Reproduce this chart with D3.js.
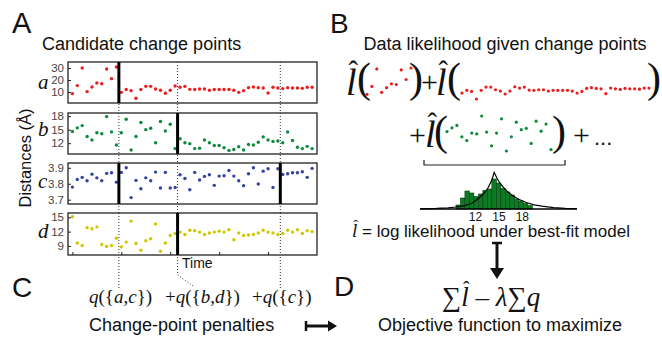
<!DOCTYPE html>
<html>
<head>
<meta charset="utf-8">
<script src="https://cdn.jsdelivr.net/npm/d3@7"></script>
<style>
  body { margin: 0; background: #fff; }
  svg { display: block; }
</style>
</head>
<body>
<script>
// distance traces a-d, one value per time step
const distA = [8.6, 15.3, 30, 10.3, 14.2, 17.5, 16.9, 29.2, 21.1, 30.8,
  9.7, 12, 11.1, 4.7, 12, 14.7, 14.7, 12.5, 11.4, 8.9,
  11.4, 15, 13.9, 14.7, 12.2, 12, 12.5, 12.5, 11.4, 12,
  12, 12, 12, 11.4, 9.7, 11.1, 13.6, 14.2, 13.6, 13.3,
  9.2, 13.9, 13.3, 12.8, 13.6, 13.3, 13.3, 13, 13.9, 13.9];
const distB = [14.6, 15.4, 15.9, 13.5, 12.7, 14.3, 14.1, 17.9, 14.5, 11.6,
  14.3, 17.3, 10.5, 13.5, 16.6, 15, 15.3, 12.1, 16.8, 14.7,
  16.2, 10.8, 13, 12.1, 11.9, 10.8, 10.9, 12.7, 12.1, 11.5,
  11.5, 11, 10.4, 10.6, 11.2, 10.5, 11.7, 11.6, 12.2, 13.4,
  12.7, 12.4, 12.5, 12.1, 14.5, 12.6, 11.1, 10.8, 11.3, 10.8];
const distC = [3.779, 3.827, 3.84, 3.819, 3.86, 3.837, 3.819, 3.865, 3.869, 3.81,
  3.871, 3.9, 3.713, 3.821, 3.769, 3.837, 3.819, 3.873, 3.773, 3.871,
  3.773, 3.777, 3.856, 3.833, 3.762, 3.871, 3.823, 3.846, 3.856, 3.79,
  3.848, 3.85, 3.883, 3.848, 3.819, 3.788, 3.863, 3.9, 3.798, 3.879,
  3.894, 3.777, 3.894, 3.858, 3.863, 3.869, 3.869, 3.875, 3.84, 3.896];
const distD = [15.1, 9.6, 9.1, 12.8, 12.6, 13, 9.3, 8.9, 9.1, 10.6,
  8.8, 9.8, 14.2, 9.5, 8.1, 10.1, 10.5, 13.6, 7.9, 9.6,
  11.2, 11.6, 11.9, 11.4, 12.3, 12.2, 11.9, 11.4, 11.7, 11.9,
  12.1, 11.9, 12.4, 10.3, 11.7, 11.2, 11.3, 11.4, 11.7, 12.3,
  11.9, 11.7, 11.4, 11.6, 12.3, 11.9, 12.4, 11.6, 12.2, 12];

const rowNames = ["a", "b", "c", "d"];
const rowColors = ["#ee1c1c", "#0b8a3e", "#34449c", "#cfc800"];
const rowTicks = [[10, 20, 30], [12, 15, 18], [3.7, 3.8, 3.9], [9, 12, 15]];
const rowDomains = [[0.8, 35], [9.6, 18.7], [3.673, 3.93], [7.1, 15.9]];
const timeTicks = [0, 10, 20, 30, 40];

// candidate change points (between time steps) and the ones accepted per row
const candidates = [9.5, 21.5, 42.5];
const rowChanges = [[9.5], [21.5], [9.5, 42.5], [21.5]];
const penaltyLabels = [["a", "c"], ["b", "d"], ["c"]];

// histogram of distance b with best-fit density
const histEdges = [9.5, 10.08, 10.65, 11.23, 11.8, 12.38, 12.95, 13.53, 14.1,
  14.68, 15.25, 15.83, 16.4, 16.98, 17.55, 18.13, 18.7, 19.28];
const histCounts = [4, 11, 18, 16, 12.5, 15, 18.5, 20, 30, 26, 20.5, 17, 14, 10, 8, 5.5, 3.5];
const fitX = [4.9, 7, 8.5, 9.5, 10.5, 11.5, 12.3, 13, 13.6, 14.1, 14.4, 14.8, 15.3, 16,
  16.8, 17.6, 18.5, 19.5, 20.5, 22, 23.5, 25];
const fitY = [0.2, 0.6, 1.2, 2, 3.2, 5.5, 10, 15, 21, 29, 36.7, 30, 24, 18,
  13, 9.5, 6.5, 4.2, 2.8, 1.4, 0.7, 0.3];
const histTicks = [12, 15, 18];

const W = 662, H = 337;
const svg = d3.select("body").append("svg").attr("width", W).attr("height", H);

const sans = "'Liberation Sans', Arial, sans-serif";
const serif = "'Liberation Serif', 'Times New Roman', serif";

function label(x, y, txt, size, anchor) {
  return svg.append("text").attr("x", x).attr("y", y)
    .attr("font-family", sans).attr("font-size", size)
    .attr("text-anchor", anchor || "start").attr("fill", "#111").text(txt);
}

// put a circumflex over character k of a text node
function hatOver(textSel, k, size) {
  const node = textSel.node();
  const box = node.getExtentOfChar(k);
  const base = +textSel.attr("y");
  svg.append("text").attr("x", box.x + box.width * 0.68).attr("y", base - size * 0.37)
    .attr("text-anchor", "middle").attr("font-family", serif)
    .attr("font-size", size * 0.75).attr("fill", "#111").text("\u02C6");
}

// ---------- panel A ----------
label(12, 33, "A", 29);
label(42, 50, "Candidate change points", 18);

const series = [distA, distB, distC, distD];
const rowTop = [62, 113, 163, 213];
const rowBottom = [103, 154, 204, 255];
const nameBase = [89, 136, 188, 238];
const left = 68, right = 317;

const x = d3.scaleLinear().domain([-0.9, 50]).range([left, right]);

// dotted candidate lines, running down to the penalty labels
const dotted = svg.append("g").attr("stroke", "#333").attr("stroke-width", 1)
  .attr("stroke-dasharray", "1,2").attr("fill", "none");
candidates.forEach((c, i) => {
  const cx = x(c);
  let pts = [[cx, rowTop[0]], [cx, 288]];
  if (i == 1) pts = [[cx, rowTop[0]], [cx, 275], [cx + 17, 287]];
  dotted.append("path").attr("d", d3.line()(pts));
});

series.forEach((vals, r) => {
  const y = d3.scaleLinear().domain(rowDomains[r]).range([rowBottom[r], rowTop[r]]);
  const g = svg.append("g");

  g.append("rect").attr("x", left).attr("y", rowTop[r])
    .attr("width", right - left).attr("height", rowBottom[r] - rowTop[r])
    .attr("fill", "#fff").attr("stroke", "#222").attr("stroke-width", 1.3);

  candidates.forEach(c => {
    g.append("line").attr("x1", x(c)).attr("x2", x(c))
      .attr("y1", rowTop[r]).attr("y2", rowBottom[r])
      .attr("stroke", "#333").attr("stroke-dasharray", "1,2");
  });

  const ax = g.append("g").attr("transform", "translate(" + left + ",0)")
    .call(d3.axisLeft(y).tickValues(rowTicks[r]).tickSize(-3).tickPadding(4)
      .tickFormat(d => String(d)));
  ax.select(".domain").remove();
  ax.selectAll("text").attr("font-family", sans).attr("font-size", 11.5).attr("fill", "#444");
  ax.selectAll("line").attr("stroke", "#222");

  g.selectAll("circle").data(vals).enter().append("circle")
    .attr("cx", (d, i) => x(i)).attr("cy", d => y(d))
    .attr("r", 1.7).attr("fill", rowColors[r]);

  rowChanges[r].forEach(c => {
    g.append("line").attr("x1", x(c)).attr("x2", x(c))
      .attr("y1", rowTop[r]).attr("y2", rowBottom[r])
      .attr("stroke", "#000").attr("stroke-width", 3);
  });

  g.append("text").attr("x", 38).attr("y", nameBase[r])
    .attr("font-family", serif).attr("font-style", "italic").attr("font-size", 21)
    .attr("fill", "#111").text(rowNames[r]);
});

// time axis ticks under row d
const tx = svg.append("g").attr("transform", "translate(0," + rowBottom[3] + ")")
  .call(d3.axisBottom(x).tickValues(timeTicks).tickSize(-3).tickFormat(""));
tx.select(".domain").remove();
tx.selectAll("line").attr("stroke", "#222");

label(182, 268, "Time", 14);

svg.append("text").attr("transform", "translate(31,158) rotate(-90)")
  .attr("text-anchor", "middle").attr("font-family", sans).attr("font-size", 16.5)
  .attr("fill", "#111").text("Distances (\u00C5)");

// ---------- panel B ----------
label(330, 33, "B", 28);
label(505, 50, "Data likelihood given change points", 18, "middle");

function lhat(px, py, size) {
  const t = svg.append("text").attr("x", px).attr("y", py)
    .attr("font-family", serif).attr("font-style", "italic").attr("font-size", size)
    .attr("fill", "#111").text("l");
  hatOver(t, 0, size);
}
function glyph(px, py, size, txt, fam) {
  svg.append("text").attr("x", px).attr("y", py)
    .attr("font-family", fam || serif).attr("font-size", size)
    .attr("fill", "#111").text(txt);
}
function miniDots(vals, i0, i1, xr, yd, yr, color) {
  const sx = d3.scaleLinear().domain([i0, i1]).range(xr);
  const sy = d3.scaleLinear().domain(yd).range(yr);
  svg.append("g").selectAll("circle").data(vals.slice(i0, i1 + 1)).enter()
    .append("circle").attr("cx", (d, i) => sx(i0 + i)).attr("cy", d => sy(d))
    .attr("r", 1.6).attr("fill", color);
}

// row 1: red segments
lhat(346, 95, 38);
glyph(357, 92, 42, "(");
miniDots(distA, 0, 9, [367, 411], [4.7, 30.8], [99, 68], rowColors[0]);
glyph(409, 92, 42, ")");
glyph(421, 92, 30, "+");
lhat(436, 95, 38);
glyph(447, 92, 42, "(");
miniDots(distA, 10, 49, [462, 649], [4.7, 30.8], [99, 68], rowColors[0]);
glyph(647, 92, 42, ")");

// row 2: green segment
glyph(409, 145, 30, "+");
lhat(425, 147, 38);
glyph(434, 145, 42, "(");
miniDots(distB, 0, 21, [447, 551], [10.5, 17.9], [151, 116], rowColors[1]);
glyph(552, 145, 42, ")");
glyph(573, 145, 30, "+");
glyph(594, 145, 22, "...", sans);

// bracket
svg.append("path").attr("d", d3.line()([[424, 160], [424, 165], [565, 165], [565, 160]]))
  .attr("fill", "none").attr("stroke", "#222").attr("stroke-width", 1.2);

// histogram
const hx = d3.scaleLinear().domain([4.9, 25]).range([420, 577]);
const hy = d3.scaleLinear().domain([0, 37]).range([209, 172]);
svg.append("g").selectAll("rect").data(histCounts).enter().append("rect")
  .attr("x", (d, i) => hx(histEdges[i]))
  .attr("width", (d, i) => hx(histEdges[i + 1]) - hx(histEdges[i]))
  .attr("y", d => hy(d)).attr("height", d => hy(0) - hy(d))
  .attr("fill", "#0d7a24").attr("stroke", "#083d12").attr("stroke-width", 0.6);
svg.append("path").datum(fitX.map((v, i) => [v, fitY[i]]))
  .attr("d", d3.line().x(d => hx(d[0])).y(d => hy(d[1])))
  .attr("fill", "none").attr("stroke", "#000").attr("stroke-width", 1.2);
svg.append("line").attr("x1", 420).attr("x2", 577).attr("y1", 209).attr("y2", 209)
  .attr("stroke", "#000").attr("stroke-width", 1.3);
svg.append("g").selectAll("text").data(histTicks).enter().append("text")
  .attr("x", d => hx(d)).attr("y", 221).attr("text-anchor", "middle")
  .attr("font-family", sans).attr("font-size", 12).attr("fill", "#111").text(d => d);

// definition line
const def = svg.append("text").attr("x", 352).attr("y", 237).attr("fill", "#111");
def.append("tspan").attr("font-family", serif).attr("font-style", "italic")
  .attr("font-size", 19).text("l");
def.append("tspan").attr("font-family", sans).attr("font-size", 17)
  .text(" = log likelihood under best-fit model");
hatOver(def, 0, 19);

// arrow B -> D
svg.append("line").attr("x1", 492).attr("x2", 502).attr("y1", 243).attr("y2", 243)
  .attr("stroke", "#111").attr("stroke-width", 2.5);
svg.append("line").attr("x1", 497).attr("x2", 497).attr("y1", 243).attr("y2", 270)
  .attr("stroke", "#111").attr("stroke-width", 3);
svg.append("path").attr("d", "M490,268 L504,268 L497,279 Z").attr("fill", "#111");

// ---------- panel C ----------
label(12, 297, "C", 28);
const qx = [89, 165, 252];
penaltyLabels.forEach((set, i) => {
  const t = svg.append("text").attr("x", qx[i]).attr("y", 303)
    .attr("font-family", serif).attr("font-size", 19).attr("fill", "#111");
  if (i > 0) t.append("tspan").text("+");
  t.append("tspan").attr("font-style", "italic").text("q");
  t.append("tspan").text("({");
  set.forEach((s, k) => {
    if (k > 0) t.append("tspan").text(",");
    t.append("tspan").attr("font-style", "italic").text(s);
  });
  t.append("tspan").text("})");
});
label(89, 331, "Change-point penalties", 18);

// maps-to arrow C -> D
svg.append("line").attr("x1", 306).attr("x2", 330).attr("y1", 326).attr("y2", 326)
  .attr("stroke", "#111").attr("stroke-width", 3);
svg.append("line").attr("x1", 306).attr("x2", 306).attr("y1", 321).attr("y2", 331)
  .attr("stroke", "#111").attr("stroke-width", 2.5);
svg.append("path").attr("d", "M328,320.5 L337,326 L328,331.5 Z").attr("fill", "#111");

// ---------- panel D ----------
label(334, 296, "D", 28);
const obj = svg.append("text").attr("x", 442).attr("y", 306)
  .attr("font-family", serif).attr("font-size", 27).attr("fill", "#111");
obj.append("tspan").text("\u2211");
obj.append("tspan").attr("font-style", "italic").text("l");
obj.append("tspan").text(" \u2013 ");
obj.append("tspan").attr("font-style", "italic").text("\u03BB");
obj.append("tspan").text("\u2211");
obj.append("tspan").attr("font-style", "italic").text("q");
hatOver(obj, 1, 27);
label(378, 331, "Objective function to maximize", 18);
</script>
</body>
</html>
